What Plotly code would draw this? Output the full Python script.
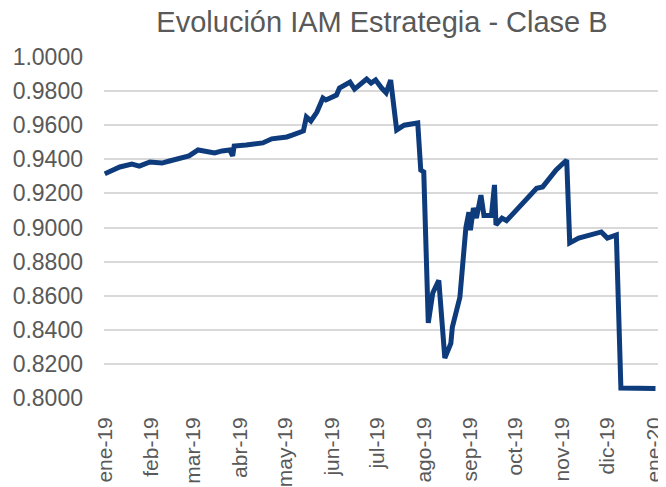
import plotly.graph_objects as go

# Data
dates = [
    "2019-01-01", "2019-01-11", "2019-01-19", "2019-01-24", "2019-01-31",
    "2019-02-08", "2019-02-13", "2019-02-20", "2019-02-26", "2019-03-04",
    "2019-03-10", "2019-03-15", "2019-03-20", "2019-03-25", "2019-03-27",
    "2019-03-28", "2019-04-05", "2019-04-16", "2019-04-22", "2019-05-02",
    "2019-05-06", "2019-05-10", "2019-05-13", "2019-05-15", "2019-05-18",
    "2019-05-22", "2019-05-26", "2019-05-28", "2019-06-04", "2019-06-06",
    "2019-06-13", "2019-06-16", "2019-06-24", "2019-06-27", "2019-06-30",
    "2019-07-04", "2019-07-07", "2019-07-10", "2019-07-14", "2019-07-19",
    "2019-07-28", "2019-07-30", "2019-08-01", "2019-08-04", "2019-08-07",
    "2019-08-11", "2019-08-15", "2019-08-19", "2019-08-20", "2019-08-25",
    "2019-08-27", "2019-08-29", "2019-08-31", "2019-09-01", "2019-09-03",
    "2019-09-05", "2019-09-08", "2019-09-10", "2019-09-15", "2019-09-17",
    "2019-09-18", "2019-09-22", "2019-09-25", "2019-10-05", "2019-10-15",
    "2019-10-19", "2019-10-28", "2019-11-04", "2019-11-06", "2019-11-12",
    "2019-11-27", "2019-12-01", "2019-12-07", "2019-12-10", "2020-01-02",
]
values = [
    0.9315, 0.9355, 0.9372, 0.9360, 0.9384,
    0.9378, 0.9390, 0.9408, 0.9420, 0.9455,
    0.9449, 0.9437, 0.9449, 0.9455, 0.9420,
    0.9478, 0.9484, 0.9496, 0.9520, 0.9531,
    0.9543, 0.9554, 0.9566, 0.9648, 0.9625,
    0.9677, 0.9760, 0.9748, 0.9777, 0.9818,
    0.9853, 0.9812, 0.9871, 0.9847, 0.9865,
    0.9818, 0.9790, 0.9865, 0.9572, 0.9600,
    0.9613, 0.9337, 0.9326, 0.8440, 0.8616,
    0.8690, 0.8234, 0.8320, 0.8416, 0.8590,
    0.8830, 0.9000, 0.9090, 0.8985, 0.9114,
    0.9055, 0.9190, 0.9070, 0.9070, 0.9250,
    0.9015, 0.9055, 0.9040, 0.9130, 0.9230,
    0.9238, 0.9337, 0.9396, 0.8910, 0.8938,
    0.8974, 0.8938, 0.8956, 0.8059, 0.8055,
]

tick_dates = [
    "2019-01-01", "2019-02-01", "2019-03-01", "2019-04-01", "2019-05-01",
    "2019-06-01", "2019-07-01", "2019-08-01", "2019-09-01", "2019-10-01",
    "2019-11-01", "2019-12-01", "2020-01-01",
]
tick_labels = [
    "ene-19", "feb-19", "mar-19", "abr-19", "may-19", "jun-19", "jul-19",
    "ago-19", "sep-19", "oct-19", "nov-19", "dic-19", "ene-20",
]
y_ticks = [0.80, 0.82, 0.84, 0.86, 0.88, 0.90, 0.92, 0.94, 0.96, 0.98, 1.00]

font_family = "Liberation Sans, Arial, sans-serif"
grey = "#595959"

# The page body has an 8px default margin, so the figure is sized to fit
# the remaining 658x479 area of the 666x487 window.
fig_w, fig_h = 658, 479

fig = go.Figure()
fig.add_trace(go.Scatter(
    x=dates, y=values, mode="lines",
    line=dict(color="#0D3B7C", width=5),
    showlegend=False,
))

fig.update_layout(
    width=fig_w, height=fig_h,
    margin=dict(l=96, r=6, t=49, b=89),
    paper_bgcolor="white", plot_bgcolor="white",
    title=dict(
        text="Evolución IAM Estrategia - Clase B",
        xref="paper", x=0.5, xanchor="center",
        yref="container", y=1 - 14 / fig_h, yanchor="middle",
        font=dict(family=font_family, size=29, color=grey),
    ),
    xaxis=dict(
        type="date",
        range=["2018-12-31 12:00", "2020-01-05 00:00"],
        tickmode="array", tickvals=tick_dates, ticktext=tick_labels,
        tickangle=-90,
        tickfont=dict(family=font_family, size=21, color=grey),
        showgrid=False, zeroline=False, showline=False,
        ticks="", ticklabelstandoff=14, automargin=False,
        ticklabeloverflow="allow",
    ),
    yaxis=dict(
        range=[0.8, 1.0],
        tickmode="array", tickvals=y_ticks,
        tickformat=".4f",
        tickfont=dict(family=font_family, size=23, color=grey),
        showgrid=True, gridcolor="#D9D9D9", gridwidth=1.5,
        zeroline=False, showline=False, ticks="",
        ticklabelstandoff=20, automargin=False,
    ),
)

fig.write_html("out.html")
